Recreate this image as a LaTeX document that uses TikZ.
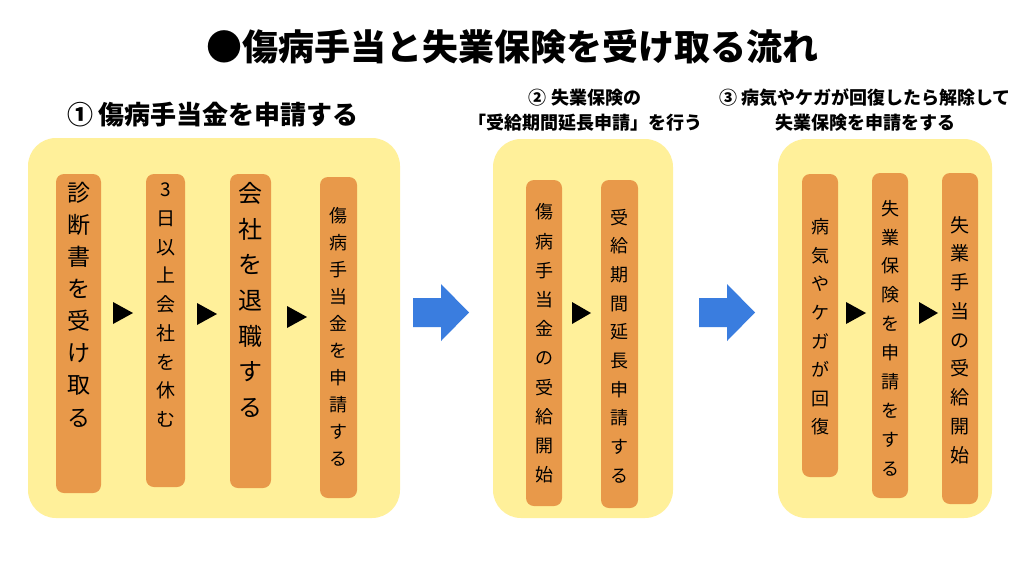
\documentclass[tikz,border=0pt]{standalone}
\usepackage{fontspec}
\setmainfont{Noto Sans CJK JP}
\definecolor{panelY}{HTML}{FFF09A}
\definecolor{boxO}{HTML}{E8994A}
\definecolor{arrowB}{HTML}{3A7DDF}
\tikzset{
  panel/.style={fill=panelY, rounded corners=28pt},
  stepbox/.style={fill=boxO, rounded corners=8pt, inner sep=0pt},
  vtext/.style={align=center, inner sep=0pt},
  tri/.style={fill=black},
  bigarrow/.style={fill=arrowB},
  head/.style={font=\bfseries\fontsize{18}{25}\selectfont, align=center, inner sep=0pt},
}
\newcommand\sz[2]{\fontsize{#1}{#2}\selectfont}
\begin{document}
\begin{tikzpicture}[x=1pt,y=-1pt]
\useasboundingbox (0,0) rectangle (1024,576);
\fill[white] (0,0) rectangle (1024,576);
% title
\node[inner sep=0pt, font=\bfseries\sz{36}{40}] (title) at (512,47) {●傷病手当と失業保険を受け取る流れ};
% headings
\node[inner sep=0pt, font=\bfseries\sz{26}{30}] (h1) at (213,115) {① 傷病手当金を申請する};
\node[head] (h2) at (585,110) {② 失業保険の\\「受給期間延長申請」を行う};
\node[head] (h3) at (865,110) {③ 病気やケガが回復したら解除して\\失業保険を申請をする};
% panels
\path[panel] (28,138) rectangle (400,518);
\path[panel] (493,139) rectangle (673,518);
\path[panel] (778,139) rectangle (992,518);
% panel 1 boxes
\node[stepbox, minimum width=45pt, minimum height=319pt] (b1) at (78.5,333.5) {};
\node[vtext, font=\sz{23}{32.1}] (t1) at (78.5,304.5) {診\\断\\書\\を\\受\\け\\取\\る};
\node[stepbox, minimum width=39pt, minimum height=313pt] (b2) at (165.5,330.5) {};
\node[vtext, font=\sz{19}{28.75}] (t2) at (165.5,305) {3\\日\\以\\上\\会\\社\\を\\休\\む};
\node[stepbox, minimum width=41pt, minimum height=314pt] (b3) at (250.5,331) {};
\node[vtext, font=\sz{24}{35.7}] (t3) at (250.5,300) {会\\社\\を\\退\\職\\す\\る};
\node[stepbox, minimum width=37pt, minimum height=321pt] (b4) at (338.5,337.5) {};
\node[vtext, font=\sz{18}{27}] (t4) at (338.5,336.5) {傷\\病\\手\\当\\金\\を\\申\\請\\す\\る};
\fill[tri] (113,302) -- (133,313) -- (113,324) -- cycle;
\fill[tri] (197,303) -- (217,314) -- (197,325) -- cycle;
\fill[tri] (287,306) -- (307,317) -- (287,328) -- cycle;
% arrow 1
\fill[bigarrow] (413,298) -- (441,298) -- (441,284) -- (469,312.5) -- (441,341) -- (441,327) -- (413,327) -- cycle;
% panel 2 boxes
\node[stepbox, minimum width=36pt, minimum height=326pt] (c1) at (544,343) {};
\node[vtext, font=\sz{18}{29.2}] (u1) at (544,343.5) {傷\\病\\手\\当\\金\\の\\受\\給\\開\\始};
\node[stepbox, minimum width=37pt, minimum height=328pt] (c2) at (619.5,344) {};
\node[vtext, font=\sz{18}{28.7}] (u2) at (619.5,346) {受\\給\\期\\間\\延\\長\\申\\請\\す\\る};
\fill[tri] (572,302) -- (591,313) -- (572,324) -- cycle;
% arrow 2
\fill[bigarrow] (699,298) -- (727,298) -- (727,284) -- (755,312.5) -- (727,341) -- (727,327) -- (699,327) -- cycle;
% panel 3 boxes
\node[stepbox, minimum width=36pt, minimum height=303pt] (d1) at (820,325.5) {};
\node[vtext, font=\sz{18}{28.6}] (v1) at (820,327) {病\\気\\や\\ケ\\ガ\\が\\回\\復};
\node[stepbox, minimum width=36pt, minimum height=325pt] (d2) at (890,335.5) {};
\node[vtext, font=\sz{18}{28.9}] (v2) at (890,338) {失\\業\\保\\険\\を\\申\\請\\を\\す\\る};
\node[stepbox, minimum width=36pt, minimum height=331pt] (d3) at (960,338.5) {};
\node[vtext, font=\sz{19}{28.75}] (v3) at (960,340) {失\\業\\手\\当\\の\\受\\給\\開\\始};
\fill[tri] (846,302) -- (866,313) -- (846,324) -- cycle;
\fill[tri] (919,302) -- (938,313) -- (919,324) -- cycle;
\end{tikzpicture}
\end{document}
